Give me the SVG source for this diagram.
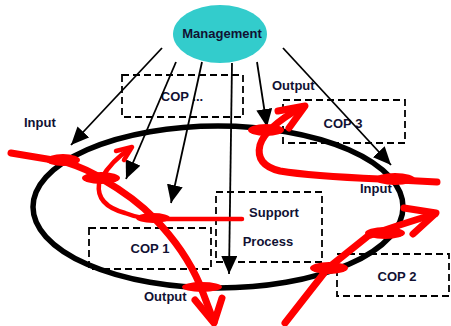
<svg xmlns="http://www.w3.org/2000/svg" width="451" height="326" viewBox="0 0 451 326">
<defs>
<marker id="ah" viewBox="0 0 10 10" refX="10" refY="5" markerWidth="18" markerHeight="16" markerUnits="userSpaceOnUse" orient="auto" preserveAspectRatio="none">
<path d="M0,0 L10,5 L0,10 Z" fill="#000"/>
</marker>
<style>
.box{fill:none;stroke:#000;stroke-width:1.8;stroke-dasharray:7,4}
.t{font-family:"Liberation Sans",Arial,sans-serif;font-weight:bold;font-size:13px;fill:#111133}
.arr{stroke:#000;stroke-width:1.8;fill:none;marker-end:url(#ah)}
.red{stroke:#ff0000;stroke-width:7;fill:none;stroke-linecap:round;stroke-linejoin:round}
.redt{stroke:#ff0000;stroke-width:4.5;fill:none;stroke-linecap:round;stroke-linejoin:round}
.blob{fill:#ff0000}
</style>
</defs>
<rect width="451" height="326" fill="#fff"/>
<g id="cop-dots"><rect class="box" x="122" y="75" width="121" height="42"/><text class="t" x="182" y="101" text-anchor="middle">COP ...</text></g>
<g id="cop3"><rect class="box" x="283" y="100" width="122" height="43"/><text class="t" x="343" y="128" text-anchor="middle">COP 3</text></g>
<g id="cop1"><rect class="box" x="89" y="228" width="122" height="41"/><text class="t" x="150" y="253" text-anchor="middle">COP 1</text></g>
<g id="cop2"><rect class="box" x="337" y="254" width="112" height="42"/><text class="t" x="397" y="281" text-anchor="middle">COP 2</text></g>
<g id="support"><rect class="box" x="216" y="192" width="106" height="70"/><text class="t" x="274" y="217" text-anchor="middle">Support</text><text class="t" x="268" y="246" text-anchor="middle">Process</text></g>
<g id="process-ring"><ellipse cx="218" cy="207" rx="185" ry="81" fill="none" stroke="#000" stroke-width="5.5"/></g>
<g id="labels">
<text class="t" x="24" y="127">Input</text>
<text class="t" x="272" y="90">Output</text>
<text class="t" x="360" y="193">Input</text>
<text class="t" x="144" y="301">Output</text>
</g>
<g id="management"><ellipse cx="220" cy="34" rx="47" ry="29" fill="#33cccc"/><text class="t" x="222" y="38" text-anchor="middle">Management</text></g>
<g id="connectors">
<line class="arr" x1="162" y1="48" x2="71" y2="145"/>
<line class="arr" x1="176" y1="62" x2="126" y2="179"/>
<line class="arr" x1="202" y1="62" x2="171" y2="203"/>
<line class="arr" x1="232" y1="63" x2="229" y2="274"/>
<line class="arr" x1="257" y1="62" x2="267" y2="127"/>
<line class="arr" x1="283" y1="48" x2="391" y2="165"/>
<path class="red" d="M11,153 L65,162 Q90,170 102,179 Q135,198 155,219 Q185,250 200,285 L214,322"/>
<path class="red" d="M195,300 L214,323 L222,298"/>
<path class="redt" d="M101,179 Q112,160 130,149"/>
<path class="redt" d="M116,151 L132,147 L124,160"/>
<path class="redt" d="M99,184 Q96,205 125,213 Q140,219 160,219 L242,219"/>
<path class="red" d="M437,182 L380,179 Q310,176 280,171 Q255,165 260,145 Q265,128 300,108"/>
<path class="red" d="M278,111 L305,106 L289,128"/>
<path class="red" d="M285,323 L328,268 L368,236 Q395,226 435,214"/>
<path class="red" d="M404,208 L436,213 L413,234"/>
<ellipse class="blob" cx="63" cy="160" rx="17" ry="6"/>
<ellipse class="blob" cx="101" cy="178" rx="19" ry="6"/>
<ellipse class="blob" cx="153" cy="218" rx="17" ry="5"/>
<ellipse class="blob" cx="202" cy="287" rx="20" ry="5"/>
<ellipse class="blob" cx="266" cy="130" rx="18" ry="6"/>
<ellipse class="blob" cx="395" cy="179" rx="20" ry="6"/>
<ellipse class="blob" cx="385" cy="233" rx="20" ry="6"/>
<ellipse class="blob" cx="329" cy="268" rx="19" ry="6"/>
</g>
</svg>
